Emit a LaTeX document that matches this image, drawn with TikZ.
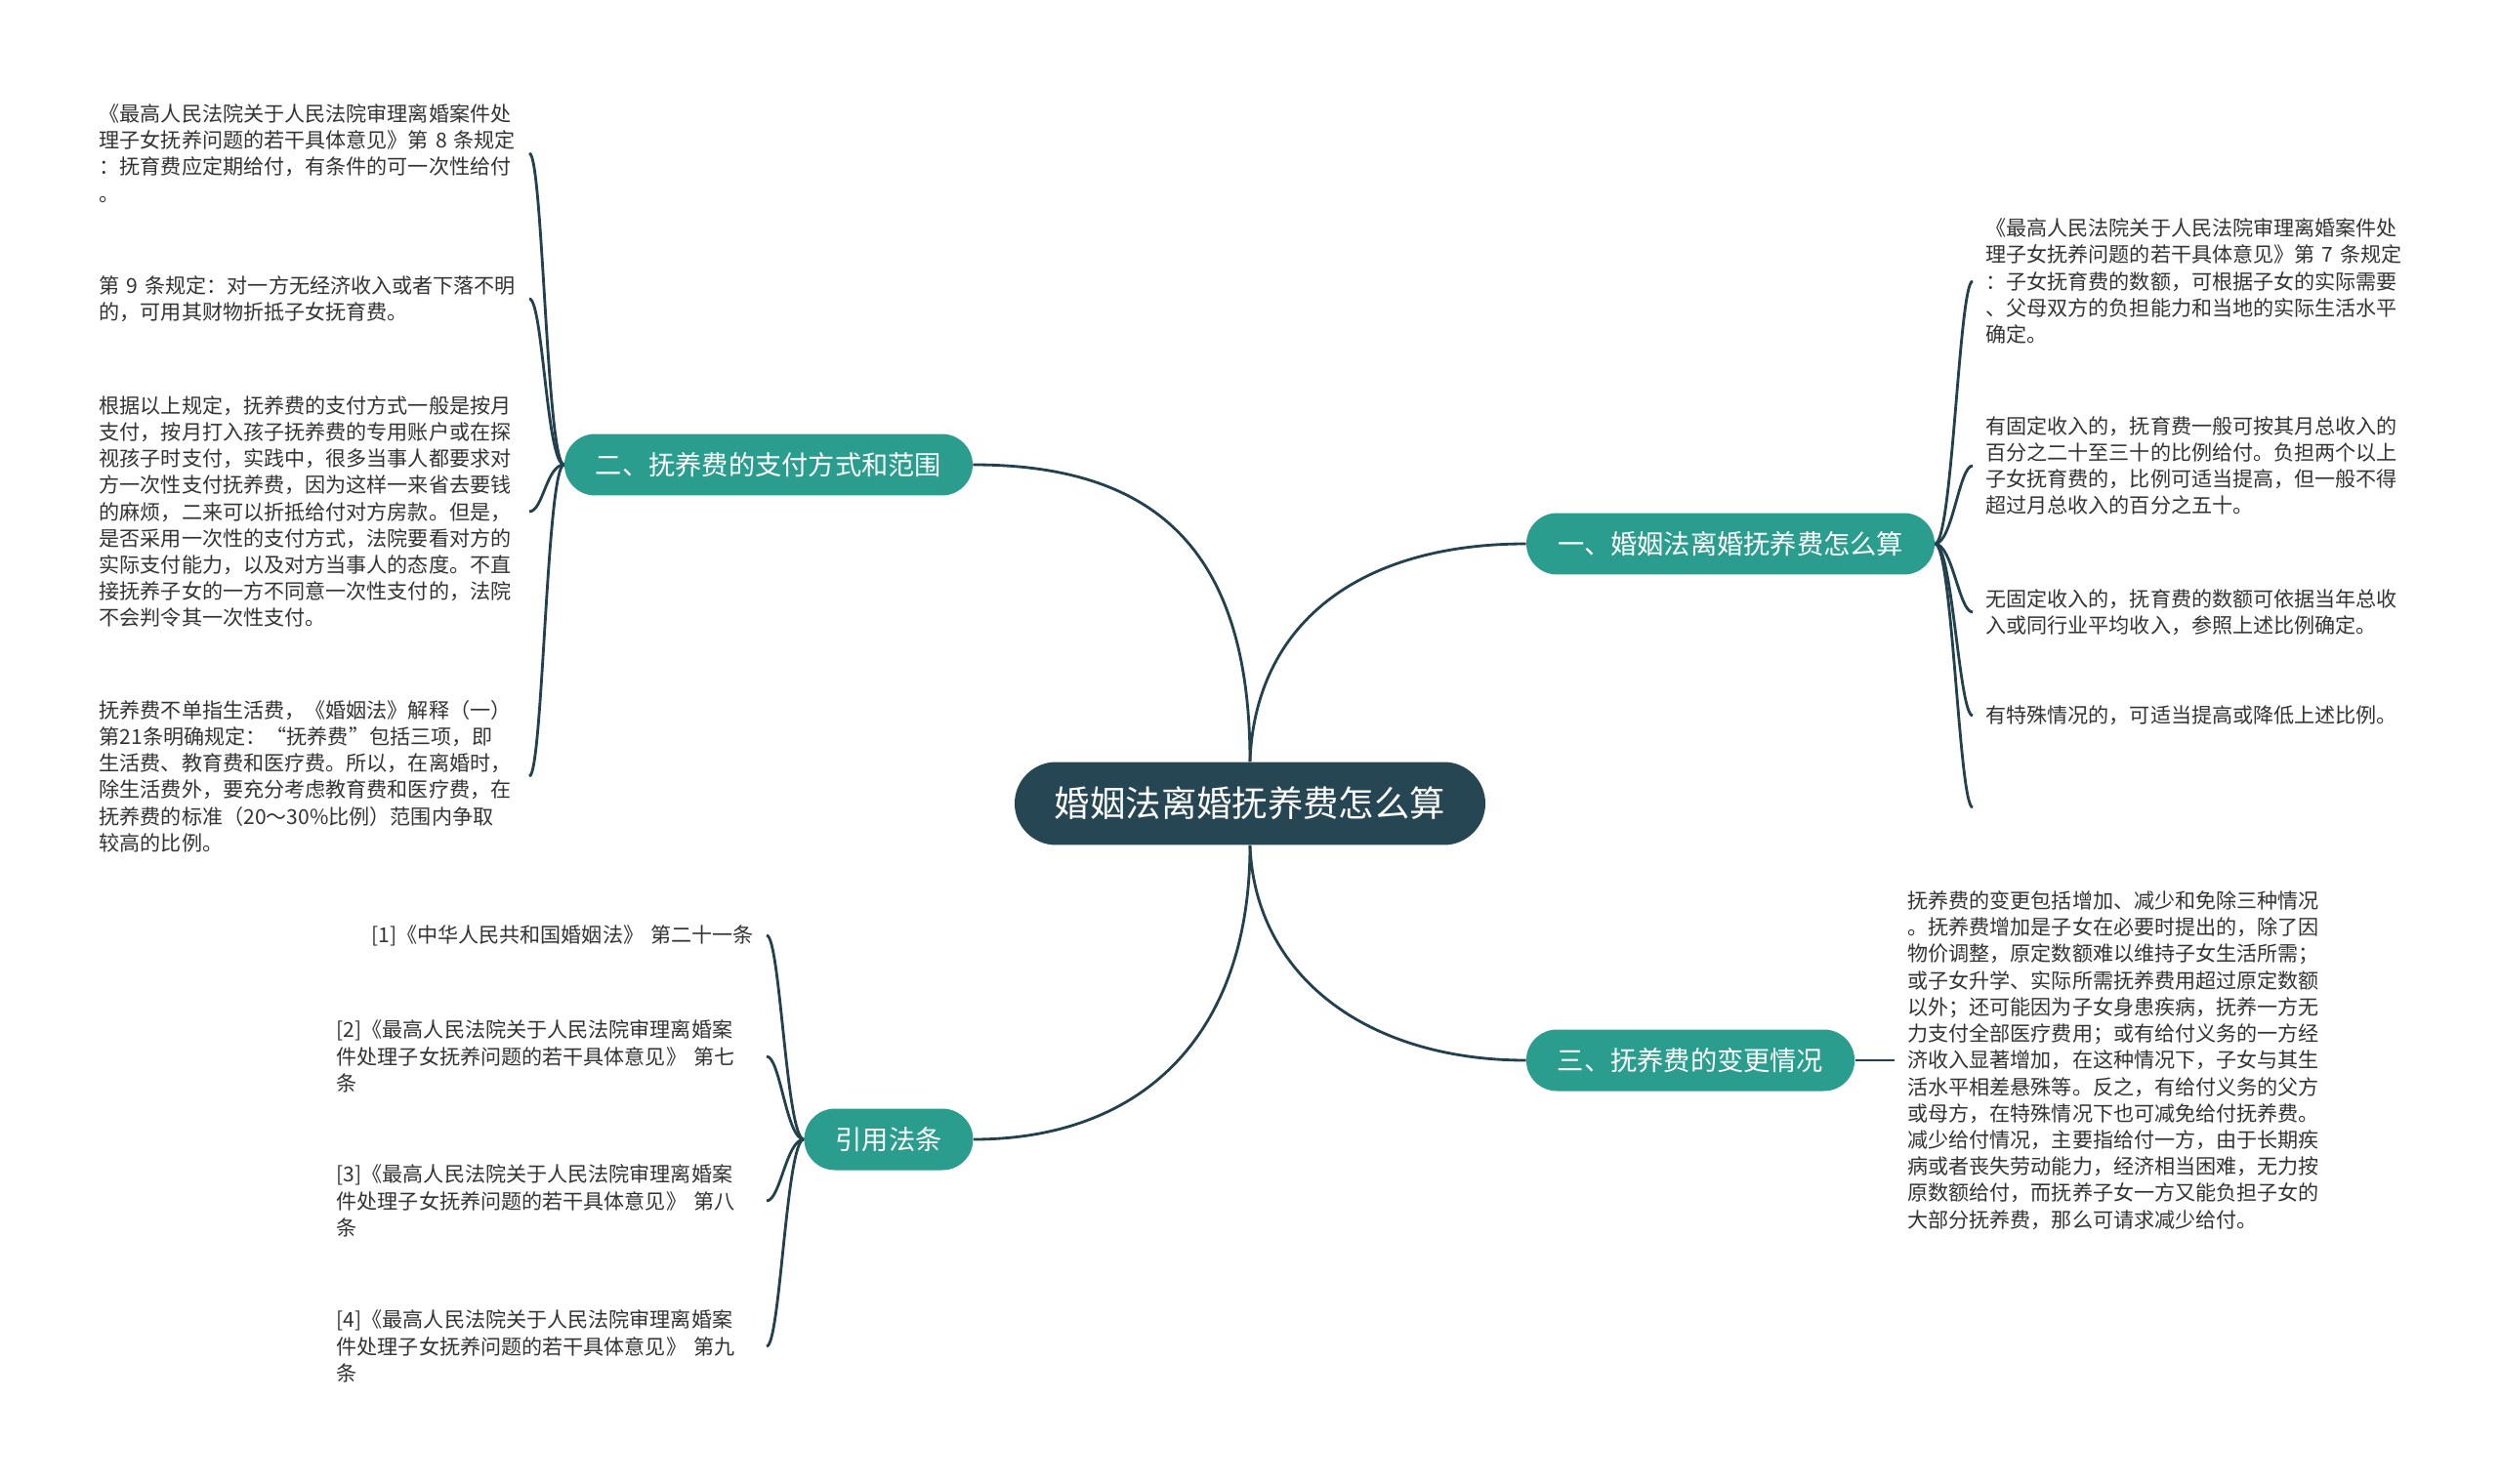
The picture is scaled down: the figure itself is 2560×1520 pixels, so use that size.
\documentclass[tikz,border=0pt]{standalone}
\usepackage{fontspec}
\setmainfont{Noto Sans CJK SC}
\usepackage{tikz}
\usepackage{xcolor}
\definecolor{froot}{HTML}{264653}
\definecolor{fteal}{HTML}{2A9D8F}
\definecolor{fline}{HTML}{22404D}
\definecolor{ftext}{HTML}{333333}
\tikzset{
  rootbox/.style   = {fill=froot, text=white, rounded corners=0.85cm,
                      minimum height=1.7cm, inner xsep=0.82cm,
                      font=\fontsize{20.7}{24}\selectfont},
  branchbox/.style = {fill=fteal, text=white, rounded corners=0.63cm,
                      minimum height=1.26cm, inner xsep=0.64cm,
                      font=\fontsize{15.5}{18}\selectfont},
  leaf/.style      = {text=ftext, inner xsep=0.26cm, inner ysep=0pt,
                      text width=8.54cm, align=left,
                      font=\fontsize{12}{15.5}\selectfont},
  link/.style      = {draw=fline, line width=1.6pt},
}

\begin{document}
\begin{tikzpicture}[x=0.02cm, y=-0.02cm]
\useasboundingbox (0,0) rectangle (2560,1520);
% ---------------- centre topic ----------------
\node[rootbox] (root) at (1280,823) {婚姻法离婚抚养费怎么算};
% ---------------- main branches ----------------
\node[branchbox] (b1) at (1772,557)  {一、婚姻法离婚抚养费怎么算};
\node[branchbox] (b2) at (787,476)   {二、抚养费的支付方式和范围};
\node[branchbox] (b3) at (1731,1086) {三、抚养费的变更情况};
\node[branchbox] (b4) at (910,1167)  {引用法条};
\draw[link] (root.north) .. controls (1280,560) and (1180,476) .. (b2.east);
\draw[link] (root.north) .. controls (1285,640) and (1390,557) .. (b1.west);
\draw[link] (root.south) .. controls (1285,1000) and (1400,1086) .. (b3.west);
\draw[link] (root.south) .. controls (1280,1060) and (1170,1167) .. (b4.east);
% ---------------- one: amount ----------------
\node[leaf, anchor=west] (r1) at (2020,288) {《最高人民法院关于人民法院审理离婚案件处\\
理子女抚养问题的若干具体意见》第 7 条规定\\
：子女抚育费的数额，可根据子女的实际需要\\
、父母双方的负担能力和当地的实际生活水平\\
确定。};
\node[leaf, anchor=west] (r2) at (2020,477) {有固定收入的，抚育费一般可按其月总收入的\\
百分之二十至三十的比例给付。负担两个以上\\
子女抚育费的，比例可适当提高，但一般不得\\
超过月总收入的百分之五十。};
\node[leaf, anchor=west] (r3) at (2020,627) {无固定收入的，抚育费的数额可依据当年总收\\
入或同行业平均收入，参照上述比例确定。};
\node[leaf, anchor=west] (r4) at (2020,733) {有特殊情况的，可适当提高或降低上述比例。};
\node[leaf, anchor=west] (r5) at (2020,827) {};
\foreach \n in {r1,r2,r3,r4,r5}
  \draw[link] (b1.east) .. controls +(18,0) and +(-14,0) .. (\n.west);
% ---------------- two: payment ----------------
\node[leaf, anchor=east] (l1) at (542,157) {《最高人民法院关于人民法院审理离婚案件处\\
理子女抚养问题的若干具体意见》第 8 条规定\\
：抚育费应定期给付，有条件的可一次性给付\\
。};
\node[leaf, anchor=east] (l2) at (542,306) {第 9 条规定：对一方无经济收入或者下落不明\\
的，可用其财物折抵子女抚育费。};
\node[leaf, anchor=east] (l3) at (542,524) {根据以上规定，抚养费的支付方式一般是按月\\
支付，按月打入孩子抚养费的专用账户或在探\\
视孩子时支付，实践中，很多当事人都要求对\\
方一次性支付抚养费，因为这样一来省去要钱\\
的麻烦，二来可以折抵给付对方房款。但是，\\
是否采用一次性的支付方式，法院要看对方的\\
实际支付能力，以及对方当事人的态度。不直\\
接抚养子女的一方不同意一次性支付的，法院\\
不会判令其一次性支付。};
\node[leaf, anchor=east] (l4) at (542,795) {抚养费不单指生活费，《婚姻法》解释（一）\\
第21条明确规定：“抚养费”包括三项，即\\
生活费、教育费和医疗费。所以，在离婚时，\\
除生活费外，要充分考虑教育费和医疗费，在\\
抚养费的标准（20～30\%比例）范围内争取\\
较高的比例。};
\foreach \n in {l1,l2,l3,l4}
  \draw[link] (b2.west) .. controls +(-18,0) and +(14,0) .. (\n.east);
% ---------------- three: changes ----------------
\node[leaf, anchor=west] (t1) at (1940,1086) {抚养费的变更包括增加、减少和免除三种情况\\
。抚养费增加是子女在必要时提出的，除了因\\
物价调整，原定数额难以维持子女生活所需；\\
或子女升学、实际所需抚养费用超过原定数额\\
以外；还可能因为子女身患疾病，抚养一方无\\
力支付全部医疗费用；或有给付义务的一方经\\
济收入显著增加，在这种情况下，子女与其生\\
活水平相差悬殊等。反之，有给付义务的父方\\
或母方，在特殊情况下也可减免给付抚养费。\\
减少给付情况，主要指给付一方，由于长期疾\\
病或者丧失劳动能力，经济相当困难，无力按\\
原数额给付，而抚养子女一方又能负担子女的\\
大部分抚养费，那么可请求减少给付。};
\draw[link] (b3.east) -- (t1.west);
% ---------------- cited articles ----------------
\node[leaf, anchor=east, align=right] (c1) at (785,958) {[1]《中华人民共和国婚姻法》 第二十一条};
\node[leaf, anchor=east] (c2) at (785,1082) {[2]《最高人民法院关于人民法院审理离婚案\\
件处理子女抚养问题的若干具体意见》 第七\\
条};
\node[leaf, anchor=east] (c3) at (785,1230) {[3]《最高人民法院关于人民法院审理离婚案\\
件处理子女抚养问题的若干具体意见》 第八\\
条};
\node[leaf, anchor=east] (c4) at (785,1379) {[4]《最高人民法院关于人民法院审理离婚案\\
件处理子女抚养问题的若干具体意见》 第九\\
条};
\foreach \n in {c1,c2,c3,c4}
  \draw[link] (b4.west) .. controls +(-18,0) and +(14,0) .. (\n.east);
\end{tikzpicture}
\end{document}
